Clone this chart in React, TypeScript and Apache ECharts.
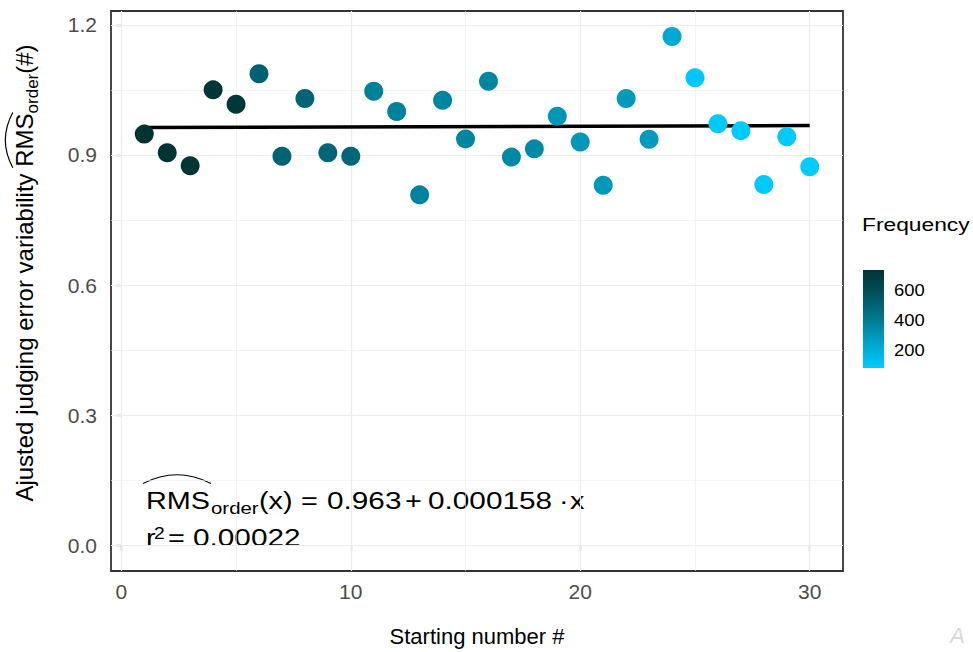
import React, { useEffect, useRef } from "react";
import * as echarts from "echarts";

// ---------- data ----------
const startingNumbers = [
  1, 2, 3, 4, 5, 6, 7, 8, 9, 10, 11, 12, 13, 14, 15, 16, 17, 18, 19, 20, 21, 22, 23, 24, 25, 26, 27, 28, 29, 30,
];
const rmsOrder = [
  0.948, 0.905, 0.875, 1.05, 1.017, 1.087, 0.897, 1.03, 0.905, 0.897, 1.047, 1.0, 0.808, 1.026, 0.937, 1.07,
  0.895, 0.914, 0.989, 0.93, 0.83, 1.03, 0.936, 1.173, 1.078, 0.972, 0.956, 0.832, 0.942, 0.873,
];
const frequency = [
  740, 735, 730, 725, 715, 510, 505, 500, 495, 490, 380, 375, 370, 365, 360, 355, 350, 345, 300, 295, 290, 285,
  280, 230, 100, 95, 92, 90, 85, 80,
];
const xTickValues = [0, 10, 20, 30];
const xMinorValues = [5, 15, 25];
const yTickValues = [0, 0.3, 0.6, 0.9, 1.2];
const yMinorValues = [0.15, 0.45, 0.75, 1.05];
const legendTickValues = [200, 400, 600];
const fitIntercept = 0.963;
const fitSlope = 0.000158;
const fitRange = [1, 30];
const rSquaredText = "0.00022";
const gradientColors = ["#00CCFF", "#00A4CC", "#00798F", "#005260", "#003333"];

const FONT = "'Liberation Sans', Arial, sans-serif";

function measure(text: string, size: number): number {
  const ctx = document.createElement("canvas").getContext("2d")!;
  ctx.font = `${size}px ${FONT}`;
  return ctx.measureText(text).width;
}

function txt(
  text: string,
  x: number,
  y: number,
  size: number,
  fill = "#000",
  scaleX = 1,
  align = "left"
): any {
  return {
    type: "text",
    x,
    y,
    scaleX,
    silent: true,
    style: {
      text,
      fontSize: size,
      fontFamily: FONT,
      font: `${size}px ${FONT}`,
      fill,
      align,
      textAlign: align,
      verticalAlign: "middle",
      textVerticalAlign: "middle",
    },
  };
}

// vertical centre (for middle alignment) from a baseline
const mid = (baseline: number, size: number) => baseline - 0.3465 * size;

export default function App() {
  const ref = useRef<HTMLDivElement>(null);

  useEffect(() => {
    document.body.style.margin = "0";
    if (!ref.current) return;
    const chart = echarts.init(ref.current, undefined, { renderer: "svg" });

    const fMin = Math.min(...frequency);
    const fMax = Math.max(...frequency);

    // ----- y-axis title (rotated group) -----
    const tf = 24;
    const sf = 17;
    const yParts = [
      { t: "Ajusted judging error variability ", f: tf, dy: 0 },
      { t: "RMS", f: tf, dy: 0 },
      { t: "order", f: sf, dy: 5 },
      { t: "(#)", f: tf, dy: 0 },
    ];
    const yW = yParts.map((p) => measure(p.t, p.f));
    const yL = yW.reduce((a, b) => a + b, 0);
    let s = -yL / 2;
    const yChildren: any[] = [];
    const starts: number[] = [];
    yParts.forEach((p, i) => {
      starts.push(s);
      yChildren.push(txt(p.t, s, mid(p.dy, p.f), p.f));
      s += yW[i];
    });
    const hatY = -0.716 * tf - 3;
    yChildren.push({
      type: "bezierCurve",
      silent: true,
      shape: {
        x1: starts[1] - 1,
        y1: hatY,
        x2: starts[1] + yW[1] + 1,
        y2: hatY,
        cpx1: starts[1] + yW[1] / 2,
        cpy1: hatY - 15,
      },
      style: { stroke: "#000", lineWidth: 1.2, fill: null },
    });

    // ----- equation annotation -----
    const ef = 24;
    const esx = 1.2;
    const nsx = 1.24;
    const b1 = 509;
    const b2 = 546;
    const eq: any[] = [
      txt("RMS", 146, mid(b1, ef), ef, "#000", esx),
      txt("order", 211, mid(514, 17), 17, "#000", esx),
      txt("(x)", 259, mid(b1, ef), ef, "#000", esx),
      txt("=", 301, mid(b1, ef), ef, "#000", esx),
      txt(String(fitIntercept), 327, mid(b1, ef), ef, "#000", nsx),
      txt("+", 405, mid(b1, ef), ef, "#000", esx),
      txt(fitSlope.toFixed(6), 428, mid(b1, ef), ef, "#000", nsx),
      txt("·", 559, mid(b1, ef), ef, "#000", esx),
      txt("x", 570, mid(b1, ef), ef, "#000", esx),
      txt("r", 146, mid(b2, ef), ef, "#000", esx),
      txt("2", 154, mid(539, 16), 16, "#000", esx),
      txt("=", 168, mid(b2, ef), ef, "#000", esx),
      txt(rSquaredText, 193, mid(b2, ef), ef, "#000", nsx),
      {
        type: "bezierCurve",
        silent: true,
        shape: { x1: 143, y1: 483.5, x2: 211, y2: 483.5, cpx1: 177, cpy1: 466 },
        style: { stroke: "#000", lineWidth: 1.2, fill: null },
      },
    ];

    // ----- colour legend -----
    const cbX = 863;
    const cbY = 270;
    const cbW = 21;
    const cbH = 98;
    const stops = gradientColors
      .slice()
      .reverse()
      .map((c, i, arr) => ({ offset: i / (arr.length - 1), color: c }));
    const legend: any[] = [
      txt("Frequency", 862, 224, 19, "#000", 1.2),
      {
        type: "rect",
        silent: true,
        shape: { x: cbX, y: cbY, width: cbW, height: cbH },
        style: { fill: new echarts.graphic.LinearGradient(0, 0, 0, 1, stops) },
      },
      ...legendTickValues.map((v) =>
        txt(String(v), 894, cbY + ((fMax - v) / (fMax - fMin)) * cbH, 16, "#000", 1.15)
      ),
    ];

    const gridLineData = [
      ...xTickValues.map((v) => ({ xAxis: v, lineStyle: { width: 1.2 } })),
      ...xMinorValues.map((v) => ({ xAxis: v, lineStyle: { width: 0.6 } })),
      ...yTickValues.map((v) => ({ yAxis: v, lineStyle: { width: 1.2 } })),
      ...yMinorValues.map((v) => ({ yAxis: v, lineStyle: { width: 0.6 } })),
    ];

    const option: any = {
      animation: false,
      textStyle: { fontFamily: FONT },
      grid: {
        left: 111,
        top: 11,
        width: 732,
        height: 562,
        show: true,
        backgroundColor: "#ffffff",
        borderColor: "#333333",
        borderWidth: 1.8,
        containLabel: false,
      },
      xAxis: {
        type: "value",
        min: -0.45,
        max: 31.45,
        axisLine: { show: false },
        splitLine: { show: false },
        axisTick: { show: true, customValues: xTickValues, length: 5, lineStyle: { color: "#333333", width: 1.2 } },
        axisLabel: {
          customValues: xTickValues,
          fontSize: 21,
          color: "#4D4D4D",
          fontFamily: FONT,
          margin: 10,
        },
        name: "Starting number #",
        nameLocation: "middle",
        nameGap: 54,
        nameTextStyle: { fontSize: 22, color: "#000", fontFamily: FONT },
      },
      yAxis: {
        type: "value",
        min: -0.0587,
        max: 1.2317,
        axisLine: { show: false },
        splitLine: { show: false },
        axisTick: { show: true, customValues: yTickValues, length: 5, lineStyle: { color: "#333333", width: 1.2 } },
        axisLabel: {
          customValues: yTickValues,
          fontSize: 21,
          color: "#4D4D4D",
          fontFamily: FONT,
          margin: 14,
          formatter: (v: number) => v.toFixed(1),
        },
      },
      visualMap: {
        type: "continuous",
        show: false,
        min: fMin,
        max: fMax,
        dimension: 2,
        seriesIndex: 0,
        inRange: { color: gradientColors },
      },
      series: [
        {
          type: "scatter",
          z: 3,
          symbolSize: 19,
          data: startingNumbers.map((x, i) => [x, rmsOrder[i], frequency[i]]),
          itemStyle: { opacity: 1 },
        },
        {
          type: "line",
          z: 2,
          symbol: "none",
          lineStyle: { color: "#000000", width: 3.5 },
          data: fitRange.map((x) => [x, fitIntercept + fitSlope * x]),
        },
        {
          type: "line",
          z: 1,
          data: [],
          silent: true,
          markLine: {
            z: 1,
            silent: true,
            animation: false,
            symbol: ["none", "none"],
            label: { show: false },
            lineStyle: { type: "solid", color: "#EBEBEB" },
            data: gridLineData,
          },
        },
      ],
      graphic: [
        { type: "group", x: 33, y: 273, rotation: Math.PI / 2, children: yChildren },
        ...eq,
        ...legend,
        {
          type: "text",
          x: 950,
          y: 624,
          silent: true,
          style: { text: "A", fontSize: 22, fontFamily: FONT, fill: "#d9d9d9", fontStyle: "italic" },
        },
      ],
    };

    chart.setOption(option);
    return () => chart.dispose();
  }, []);

  return <div ref={ref} style={{ width: 973, height: 652 }} />;
}
